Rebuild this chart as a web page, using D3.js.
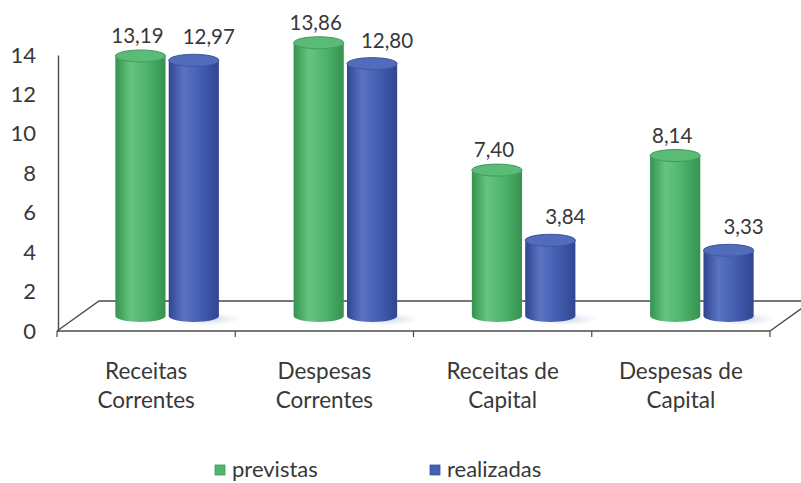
<!DOCTYPE html>
<html><head><meta charset="utf-8">
<script src="https://cdn.jsdelivr.net/npm/d3@7"></script>
<style>
html,body{margin:0;padding:0;background:#fff;}
text{font-family:Lato,"Open Sans",sans-serif;fill:#383838;}
</style></head>
<body><svg id="chart" width="801" height="483"></svg>
<script>
const categories = ["Receitas Correntes","Despesas Correntes","Receitas de Capital","Despesas de Capital"];
const seriesNames = ["previstas","realizadas"];
const previstas = [13.19, 13.86, 7.40, 8.14];
const realizadas = [12.97, 12.80, 3.84, 3.33];
const yTicks = [0,2,4,6,8,10,12,14];

const svg = d3.select("#chart");
const depthX = 42, depthY = -30;          // full floor depth
const barDX = depthX/2, barDY = depthY/2; // bars sit mid-depth
const ry = 6;

const x = d3.scaleBand().domain(categories).range([57, 770]);
const xs = d3.scaleBand().domain(seriesNames).range([0, x.step()]).paddingInner(0.06).paddingOuter(0.7);
const y = d3.scaleLinear().domain([0,14]).range([331, 55]);

const colors = {
  previstas: {dark:"#35934f", mid:"#50b66e", light:"#66c482", top:"#5abb76", rim:"#3d9a57"},
  realizadas:{dark:"#304592", mid:"#4660b4", light:"#5a74c2", top:"#526cbc", rim:"#3a519d"}
};
const defs = svg.append("defs");
seriesNames.forEach(s=>{
  const c = colors[s];
  const g = defs.append("linearGradient").attr("id","g_"+s).attr("x1","0").attr("x2","1").attr("y1","0").attr("y2","0");
  g.append("stop").attr("offset","0%").attr("stop-color",c.dark);
  g.append("stop").attr("offset","30%").attr("stop-color",c.light);
  g.append("stop").attr("offset","60%").attr("stop-color",c.mid);
  g.append("stop").attr("offset","100%").attr("stop-color",c.dark);
});
const sh = defs.append("radialGradient").attr("id","shadow");
sh.append("stop").attr("offset","0%").attr("stop-color","#b8c6e0").attr("stop-opacity",0.8);
sh.append("stop").attr("offset","100%").attr("stop-color","#dfe6f2").attr("stop-opacity",0);

// floor (back lines)
const y0 = y(0);
const x0 = x.range()[0], x1 = x.range()[1];
const lineCol = "#4a4a4a";
svg.append("path")
  .attr("d", `M${x0},${y0} L${x0+depthX},${y0+depthY} L${x1+depthX},${y0+depthY}`)
  .attr("fill","none").attr("stroke",lineCol).attr("stroke-width",1.4);
svg.append("path")
  .attr("d", `M${x1},${y0} L${x1+depthX},${y0+depthY}`)
  .attr("fill","none").attr("stroke",lineCol).attr("stroke-width",1.4);

// y axis
const yAxis = d3.axisLeft(y).tickValues(yTicks).tickSize(0).tickSizeOuter(0).tickPadding(22).tickFormat(d3.format("d"));
const ya = svg.append("g").attr("transform",`translate(${x0+1},0)`).call(yAxis);
ya.select(".domain").attr("stroke",lineCol).attr("stroke-width",1.4);
ya.selectAll("text").style("font-size","22px").style("font-family","Lato, sans-serif").attr("fill","#383838");

// front line with category boundary ticks
svg.append("line").attr("x1",x0).attr("x2",x1).attr("y1",y0).attr("y2",y0)
  .attr("stroke",lineCol).attr("stroke-width",1.4);
const bounds = categories.map(c=>x(c)).concat([x1]);
svg.selectAll(".ctick").data(bounds).enter().append("line")
  .attr("x1",d=>d).attr("x2",d=>d).attr("y1",y0).attr("y2",y0+6)
  .attr("stroke",lineCol).attr("stroke-width",1.2);

// bars
const data = [];
categories.forEach((c,i)=>{
  data.push({cat:c, s:"previstas", v:previstas[i]});
  data.push({cat:c, s:"realizadas", v:realizadas[i]});
});
const bw = xs.bandwidth(), r = bw/2;
function cx(d){ return x(d.cat) + xs(d.s) + r + barDX; }
function yTop(d){ return y(d.v) + barDY; }
const yBase = y(0) + barDY;

// shadows
svg.selectAll(".shadow").data(categories).enter().append("ellipse")
  .attr("cx", c=> x(c) + xs("realizadas") + bw + barDX - 10)
  .attr("cy", yBase + 3).attr("rx", 34).attr("ry", 7).attr("fill","url(#shadow)");

const bars = svg.selectAll(".bar").data(data).enter().append("g");
bars.append("path")
  .attr("d", d=>{
    const c = cx(d), t = yTop(d);
    return `M${c-r},${t} L${c-r},${yBase} A${r},${ry} 0 0 0 ${c+r},${yBase} L${c+r},${t} A${r},${ry} 0 0 1 ${c-r},${t} Z`;
  })
  .attr("fill", d=>`url(#g_${d.s})`);
bars.append("ellipse")
  .attr("cx", cx).attr("cy", yTop).attr("rx", r).attr("ry", ry)
  .attr("fill", d=>colors[d.s].top).attr("stroke", d=>colors[d.s].rim).attr("stroke-width",1);

// value labels
const fmt = v => d3.format(".2f")(v).replace(".", ",");
const labOff = {previstas:{dx:-3, dy:-13}, realizadas:{dx:15, dy:-16}};
svg.selectAll(".vlab").data(data).enter().append("text")
  .attr("x", d=>cx(d) + labOff[d.s].dx)
  .attr("y", d=>yTop(d) + labOff[d.s].dy)
  .attr("text-anchor","middle").style("font-size","20.5px")
  .text(d=>fmt(d.v));

// category labels
categories.forEach(c=>{
  const words = c.split(" ");
  const l2 = words.pop();
  const l1 = words.join(" ");
  const t = svg.append("text").attr("text-anchor","middle").style("font-size","22.5px");
  t.append("tspan").attr("x", x(c)+x.bandwidth()/2).attr("y", 379).text(l1);
  t.append("tspan").attr("x", x(c)+x.bandwidth()/2).attr("y", 408).text(l2);
});

// legend
const legX = {previstas:215, realizadas:430};
seriesNames.forEach(s=>{
  svg.append("rect").attr("x", legX[s]).attr("y", 465).attr("width",10).attr("height",10)
    .attr("fill", colors[s].mid).attr("stroke", colors[s].rim).attr("stroke-width",0.8);
  svg.append("text").attr("x", legX[s]+17).attr("y", 477).style("font-size","22px").text(s);
});
</script>
</body></html>
